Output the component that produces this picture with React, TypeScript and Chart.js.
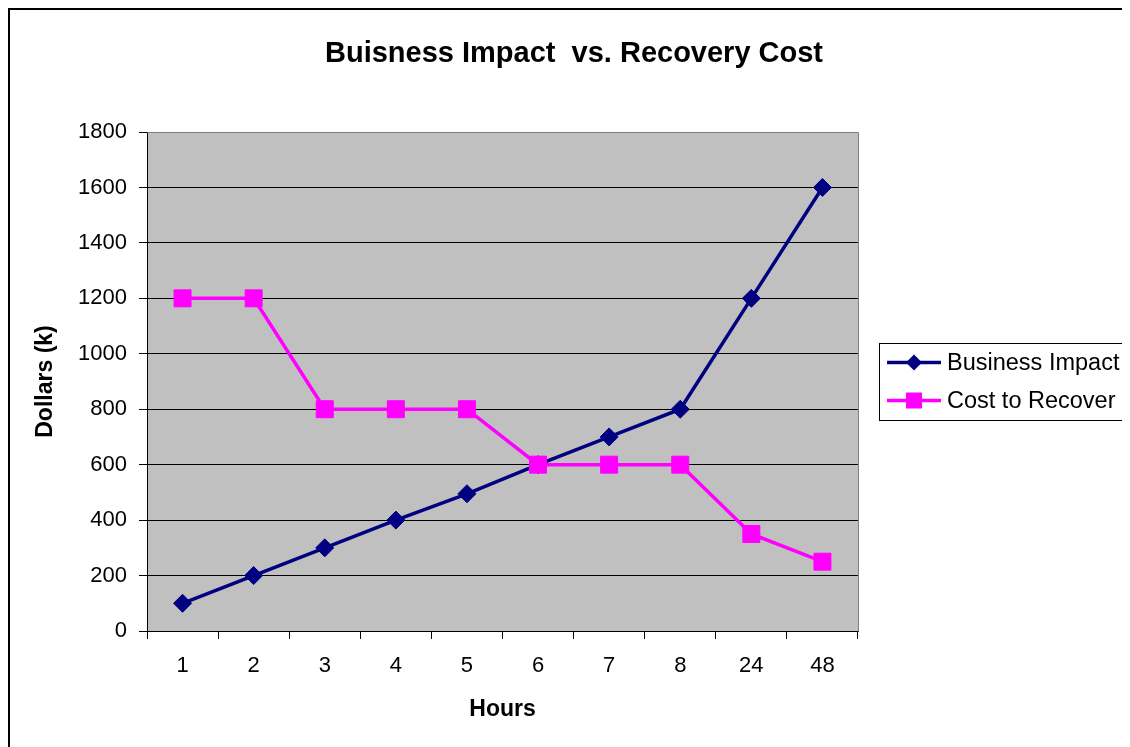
import React, { useEffect, useRef } from "react";
import { Chart, registerables } from "chart.js";

Chart.register(...registerables);

const chartTitle = "Buisness Impact  vs. Recovery Cost";
const hours = ["1", "2", "3", "4", "5", "6", "7", "8", "24", "48"];
const businessImpact = [100, 200, 300, 400, 495, 600, 700, 800, 1200, 1600];
const costToRecover = [1200, 1200, 800, 800, 800, 600, 600, 600, 350, 250];
const seriesNames = ["Business Impact", "Cost to Recover"];
const yTitle = "Dollars (k)";
const xTitle = "Hours";

const FONT = "'Liberation Sans', Arial, sans-serif";

const framePlugin = {
  id: "frameAndPlot",
  beforeDraw(chart: any) {
    const { ctx, chartArea } = chart;
    ctx.save();
    ctx.fillStyle = "#ffffff";
    ctx.fillRect(0, 0, chart.width, chart.height);
    // outer frame (left and top visible)
    ctx.fillStyle = "#000000";
    ctx.fillRect(0, 0, chart.width, 2);
    ctx.fillRect(0, 0, 2, chart.height);
    // plot background
    ctx.fillStyle = "#C0C0C0";
    ctx.fillRect(chartArea.left, chartArea.top, chartArea.right - chartArea.left, chartArea.bottom - chartArea.top);
    // chart title
    ctx.fillStyle = "#000000";
    ctx.font = `bold 29px ${FONT}`;
    ctx.textAlign = "center";
    ctx.textBaseline = "middle";
    ctx.fillText(chartTitle, 566, 46);
    ctx.restore();
  },
  afterDatasetsDraw(chart: any) {
    const { ctx, chartArea } = chart;
    ctx.save();
    ctx.strokeStyle = "#808080";
    ctx.lineWidth = 1;
    ctx.beginPath();
    ctx.moveTo(Math.round(chartArea.left) + 0.5, Math.round(chartArea.top) + 0.5);
    ctx.lineTo(Math.round(chartArea.right) + 0.5, Math.round(chartArea.top) + 0.5);
    ctx.lineTo(Math.round(chartArea.right) + 0.5, Math.round(chartArea.bottom) + 0.5);
    ctx.stroke();
    ctx.restore();
  },
};

const legendPlugin = {
  id: "boxLegend",
  afterDraw(chart: any) {
    const { ctx, chartArea } = chart;
    const left = chartArea.right + 21;
    const cy = (chartArea.top + chartArea.bottom) / 2;
    const top = cy - 39;
    const bottom = cy + 38;
    ctx.save();
    ctx.fillStyle = "#ffffff";
    ctx.fillRect(left, top, chart.width - left + 10, bottom - top);
    ctx.strokeStyle = "#000000";
    ctx.lineWidth = 1;
    ctx.strokeRect(Math.round(left) + 0.5, Math.round(top) + 0.5, chart.width, Math.round(bottom - top));
    const rows = [cy - 19, cy + 19];
    chart.data.datasets.forEach((ds: any, i: number) => {
      const y = rows[i];
      const x0 = left + 8;
      const x1 = left + 62;
      const mx = (x0 + x1) / 2;
      ctx.strokeStyle = ds.borderColor;
      ctx.lineWidth = ds.borderWidth;
      ctx.beginPath();
      ctx.moveTo(x0, y);
      ctx.lineTo(x1, y);
      ctx.stroke();
      ctx.fillStyle = ds.pointBackgroundColor;
      if (ds.pointStyle === "rectRot") {
        const r = 8;
        ctx.beginPath();
        ctx.moveTo(mx, y - r);
        ctx.lineTo(mx + r, y);
        ctx.lineTo(mx, y + r);
        ctx.lineTo(mx - r, y);
        ctx.closePath();
        ctx.fill();
      } else {
        const s = 8;
        ctx.fillRect(mx - s, y - s, 2 * s, 2 * s);
      }
      ctx.fillStyle = "#000000";
      ctx.font = `23.5px ${FONT}`;
      ctx.textAlign = "left";
      ctx.textBaseline = "middle";
      ctx.fillText(ds.label, x1 + 6, y + 1);
    });
    ctx.restore();
  },
};

export default function App() {
  const canvasRef = useRef<HTMLCanvasElement | null>(null);

  useEffect(() => {
    const canvas = canvasRef.current;
    if (!canvas) return;
    const chart = new Chart(canvas, {
      type: "line",
      data: {
        labels: hours,
        datasets: [
          {
            label: seriesNames[0],
            data: businessImpact,
            borderColor: "#000080",
            backgroundColor: "#000080",
            pointBackgroundColor: "#000080",
            pointBorderColor: "#000080",
            borderWidth: 3.5,
            pointStyle: "rectRot",
            pointRadius: 9,
            pointBorderWidth: 1,
            tension: 0,
            order: 1,
          },
          {
            label: seriesNames[1],
            data: costToRecover,
            borderColor: "#FF00FF",
            backgroundColor: "#FF00FF",
            pointBackgroundColor: "#FF00FF",
            pointBorderColor: "#FF00FF",
            borderWidth: 3.5,
            pointStyle: "rect",
            pointRadius: 12,
            pointBorderWidth: 1,
            tension: 0,
            order: 0,
          },
        ],
      },
      options: {
        responsive: false,
        animation: false,
        layout: { padding: { left: 0, top: 124, right: 272, bottom: 0 } },
        plugins: {
          legend: { display: false },
          tooltip: { enabled: false },
          title: { display: false },
        },
        scales: {
          x: {
            offset: true,
            grid: {
              offset: true,
              drawOnChartArea: false,
              drawTicks: true,
              tickLength: 8,
              color: "#000000",
            },
            border: { display: true, color: "#000000", width: 1 },
            ticks: {
              color: "#000000",
              font: { family: FONT, size: 22 },
              padding: 14,
              maxRotation: 0,
              autoSkip: false,
            },
            title: {
              display: true,
              text: xTitle,
              color: "#000000",
              font: { family: FONT, size: 23, weight: "bold" },
              padding: { top: 0, bottom: 24 },
            },
            afterFit(scale: any) {
              scale.height = 116;
            },
          },
          y: {
            min: 0,
            max: 1800,
            grid: {
              color: "#000000",
              drawTicks: true,
              tickLength: 8,
            },
            border: { display: true, color: "#000000", width: 1 },
            ticks: {
              stepSize: 200,
              color: "#000000",
              font: { family: FONT, size: 22 },
              padding: 12,
              callback: (v: any) => String(v),
            },
            title: {
              display: true,
              text: yTitle,
              color: "#000000",
              font: { family: FONT, size: 23, weight: "bold" },
              padding: { top: 24, bottom: 0 },
            },
            afterFit(scale: any) {
              scale.width = 139;
            },
          },
        },
      },
      plugins: [framePlugin, legendPlugin],
    });
    return () => chart.destroy();
  }, []);

  return (
    <div style={{ width: 1122, height: 739, overflow: "hidden" }}>
      <canvas ref={canvasRef} width={1122} height={739} style={{ display: "block" }} />
    </div>
  );
}
